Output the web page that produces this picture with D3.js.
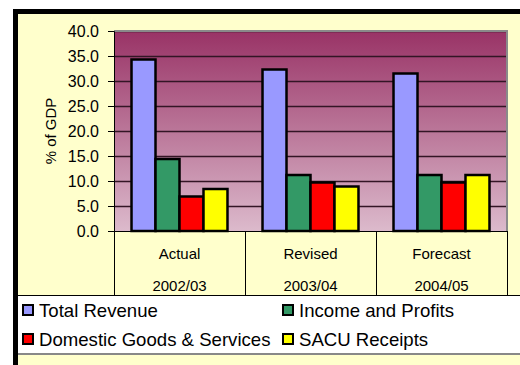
<!DOCTYPE html>
<html>
<head>
<meta charset="utf-8">
<script src="https://cdn.jsdelivr.net/npm/d3@7"></script>
<style>
  html, body { margin: 0; padding: 0; background: #ffffff; }
  svg { display: block; font-family: Arial, "Liberation Sans", sans-serif; }
</style>
</head>
<body>
<svg id="chart" width="520" height="365"></svg>
<script>
// Revenue composition, % of GDP
const periods = ["Actual", "Revised", "Forecast"];
const years = ["2002/03", "2003/04", "2004/05"];
const seriesNames = ["Total Revenue", "Income and Profits", "Domestic Goods & Services", "SACU Receipts"];
const totalRevenue = [34.3, 32.3, 31.5];
const incomeProfits = [14.4, 11.2, 11.2];
const domesticGoods = [6.9, 9.7, 9.7];
const sacuReceipts = [8.4, 8.9, 11.2];
const seriesColors = ["#9999FF", "#339966", "#FF0000", "#FFFF00"];
const yTicks = [0, 5, 10, 15, 20, 25, 30, 35, 40];

const seriesValues = [totalRevenue, incomeProfits, domesticGoods, sacuReceipts];

const svg = d3.select("#chart");
const plot = { left: 114, right: 507, top: 31, bottom: 231 };

// chart frame
svg.append("rect")
  .attr("x", 15.5).attr("y", 11.5)
  .attr("width", 530).attr("height", 380)
  .attr("fill", "#FFFFCC")
  .attr("stroke", "#000").attr("stroke-width", 5);

// plot background gradient
const defs = svg.append("defs");
const grad = defs.append("linearGradient")
  .attr("id", "plotBg").attr("x1", 0).attr("y1", 0).attr("x2", 0).attr("y2", 1);
grad.append("stop").attr("offset", "0%").attr("stop-color", "#993366");
grad.append("stop").attr("offset", "100%").attr("stop-color", "#DCBACC");

const x0 = d3.scaleBand().domain(periods).range([plot.left, plot.right]).paddingInner(0).paddingOuter(0);
const x1 = d3.scaleBand().domain(seriesNames).range([0, x0.bandwidth()]).paddingInner(0).paddingOuter(0.73);
const y = d3.scaleLinear().domain([0, 40]).range([plot.bottom, plot.top]);

svg.append("rect")
  .attr("x", plot.left).attr("y", plot.top)
  .attr("width", plot.right - plot.left).attr("height", plot.bottom - plot.top)
  .attr("fill", "url(#plotBg)");

// horizontal gridlines
svg.append("g")
  .selectAll("line")
  .data(yTicks.filter(d => d > 0))
  .join("line")
  .attr("x1", plot.left).attr("x2", plot.right)
  .attr("y1", d => Math.round(y(d)) + 0.5).attr("y2", d => Math.round(y(d)) + 0.5)
  .attr("stroke", "#331525").attr("stroke-width", 1.4);

// plot border on top and right
svg.append("path")
  .attr("d", `M${plot.left},${plot.top} H${plot.right} V${plot.bottom}`)
  .attr("fill", "none").attr("stroke", "#8a8a8a").attr("stroke-width", 2);

// bars
const groups = svg.append("g")
  .selectAll("g")
  .data(periods)
  .join("g")
  .attr("transform", d => `translate(${x0(d)},0)`);

groups.selectAll("rect")
  .data((p, i) => seriesNames.map((s, j) => ({ s, v: seriesValues[j][i], c: seriesColors[j] })))
  .join("rect")
  .attr("x", d => x1(d.s))
  .attr("y", d => y(d.v))
  .attr("width", x1.bandwidth())
  .attr("height", d => y(0) - y(d.v))
  .attr("fill", d => d.c)
  .attr("stroke", "#000")
  .attr("stroke-width", 2.5);

// y axis
const yAxis = d3.axisLeft(y).tickValues(yTicks).tickFormat(d3.format(".1f")).tickSize(6).tickPadding(9);
const yg = svg.append("g").attr("transform", `translate(${plot.left},0)`).call(yAxis);
yg.select(".domain").attr("stroke", "#000").attr("stroke-width", 1);
yg.selectAll(".tick line").attr("stroke", "#000");
yg.selectAll("text").attr("font-size", 16).attr("fill", "#000")
  .attr("font-family", "Arial, 'Liberation Sans', sans-serif");

svg.append("text")
  .attr("transform", `translate(56,131) rotate(-90)`)
  .attr("text-anchor", "middle")
  .attr("font-size", 15)
  .text("% of GDP");

// category axis: baseline, dividers and two label rows
svg.append("line")
  .attr("x1", plot.left).attr("x2", plot.right)
  .attr("y1", plot.bottom + 0.5).attr("y2", plot.bottom + 0.5)
  .attr("stroke", "#000");

const dividers = periods.map(p => x0(p)).concat([x0(periods[periods.length - 1]) + x0.bandwidth()]);
svg.append("g")
  .selectAll("line")
  .data(dividers)
  .join("line")
  .attr("x1", d => Math.round(d) + 0.5).attr("x2", d => Math.round(d) + 0.5)
  .attr("y1", plot.bottom).attr("y2", 296)
  .attr("stroke", "#000");

svg.append("g")
  .selectAll("text")
  .data(periods)
  .join("text")
  .attr("x", d => x0(d) + x0.bandwidth() / 2)
  .attr("y", 259)
  .attr("text-anchor", "middle")
  .attr("font-size", 15)
  .text(d => d);

svg.append("g")
  .selectAll("text")
  .data(years)
  .join("text")
  .attr("x", (d, i) => x0(periods[i]) + x0.bandwidth() / 2)
  .attr("y", 291)
  .attr("text-anchor", "middle")
  .attr("font-size", 15)
  .text(d => d);

// legend
svg.append("rect")
  .attr("x", 18).attr("y", 296).attr("width", 510).attr("height", 58)
  .attr("fill", "#ffffff");
svg.append("line").attr("x1", 18).attr("x2", 520).attr("y1", 295.5).attr("y2", 295.5).attr("stroke", "#000");
svg.append("line").attr("x1", 18).attr("x2", 520).attr("y1", 354).attr("y2", 354).attr("stroke", "#888").attr("stroke-width", 2);

const legendPos = [[22, 304], [282, 304], [22, 333], [282, 333]];
const legend = svg.append("g")
  .selectAll("g")
  .data(seriesNames)
  .join("g")
  .attr("transform", (d, i) => `translate(${legendPos[i][0]},${legendPos[i][1]})`);
legend.append("rect")
  .attr("x", 1).attr("y", 1).attr("width", 10).attr("height", 10)
  .attr("fill", (d, i) => seriesColors[i])
  .attr("stroke", "#000").attr("stroke-width", 2);
legend.append("text")
  .attr("x", 17).attr("y", 12.5)
  .attr("font-size", 18.6)
  .text(d => d);
</script>
</body>
</html>
